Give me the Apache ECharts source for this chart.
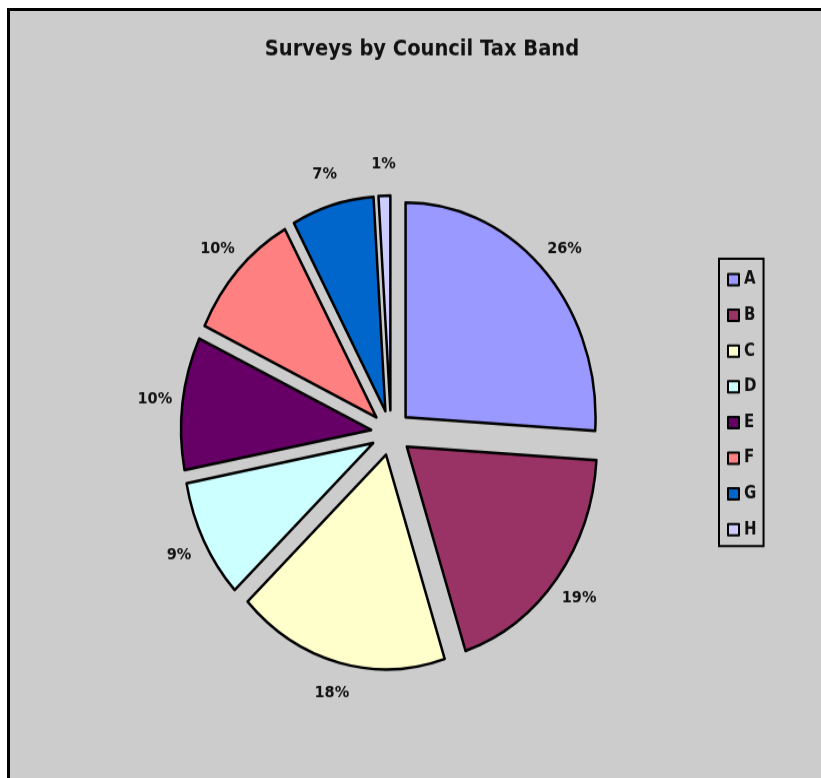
<!DOCTYPE html>
<html>
<head>
<meta charset="utf-8">
<title>Surveys by Council Tax Band</title>
<script src="https://cdn.jsdelivr.net/npm/echarts@6/dist/echarts.min.js"></script>
<style>
    html, body { margin: 0; padding: 0; background: #fff; overflow: hidden; }
    #frame {
        position: absolute; left: 7px; top: 8px; right: 0; bottom: 0;
        background: #cccccc; border-left: 3px solid #000; border-top: 3px solid #000;
    }
    /* the old excel picture is stretched a bit in height, so the chart is too */
    #chart {
        position: absolute; left: 7px; top: 0; width: 830px; height: 688px;
        transform: scaleY(1.13); transform-origin: 0 0;
    }
</style>
</head>
<body>
<div id="frame"></div>
<div id="chart"></div>
<script>
var bands = ['A', 'B', 'C', 'D', 'E', 'F', 'G', 'H'];
var shares = [26, 19, 18, 9, 10, 10, 7, 1];
var colorData = ['#9999FF', '#993366', '#FFFFCC', '#CCFFFF', '#660066', '#FF8080', '#0066CC', '#CCCCFF'];

(function(){
    var pieData = bands.map(function(b, i){
        return { name: b, value: shares[i], selected: true };
    });
    var labelData = bands.map(function(b, i){
        return { name: b, value: shares[i] };
    });
    var myChart = echarts.init(document.getElementById('chart'));
    var option = {
        animation: false,
        color: colorData,
        title: {
            text: 'Surveys by Council Tax Band',
            left: 'center',
            top: 29,
            textStyle: {
                fontFamily: 'DejaVu Sans',
                fontSize: 19.5,
                fontWeight: 'bold',
                color: '#111'
            }
        },
        legend: {
            orient: 'vertical',
            left: 712,
            top: 229,
            data: bands,
            icon: 'rect',
            itemWidth: 11,
            itemHeight: 10,
            itemGap: 16.6,
            padding: [11, 7, 7, 8],
            borderColor: '#000',
            borderWidth: 2,
            selectedMode: false,
            itemStyle: { borderColor: '#000', borderWidth: 2 },
            textStyle: {
                fontFamily: 'DejaVu Sans',
                fontSize: 15,
                lineHeight: 15,
                fontWeight: 'bold',
                color: '#111'
            }
        },
        series: [
            {
                name: 'Surveys',
                type: 'pie',
                center: [384, 383],
                radius: 190,
                startAngle: 90,
                selectedMode: 'multiple',
                selectedOffset: 20,
                itemStyle: { borderColor: '#000', borderWidth: 2.5 },
                label: { show: false },
                labelLine: { show: false },
                emphasis: { scale: false },
                data: pieData
            },
            {
                // invisible ring, only carries the % labels round the pie
                name: 'labels',
                type: 'pie',
                center: [384, 383],
                radius: [222, 248],
                startAngle: 90,
                silent: true,
                itemStyle: { color: 'rgba(0,0,0,0)', borderWidth: 0 },
                label: {
                    show: true,
                    position: 'inside',
                    formatter: '{c}%',
                    fontFamily: 'DejaVu Sans',
                    fontSize: 14.5,
                    fontWeight: 'bold',
                    color: '#111'
                },
                labelLine: { show: false },
                data: labelData
            }
        ]
    };
    myChart.setOption(option);
}());
</script>
</body>
</html>
